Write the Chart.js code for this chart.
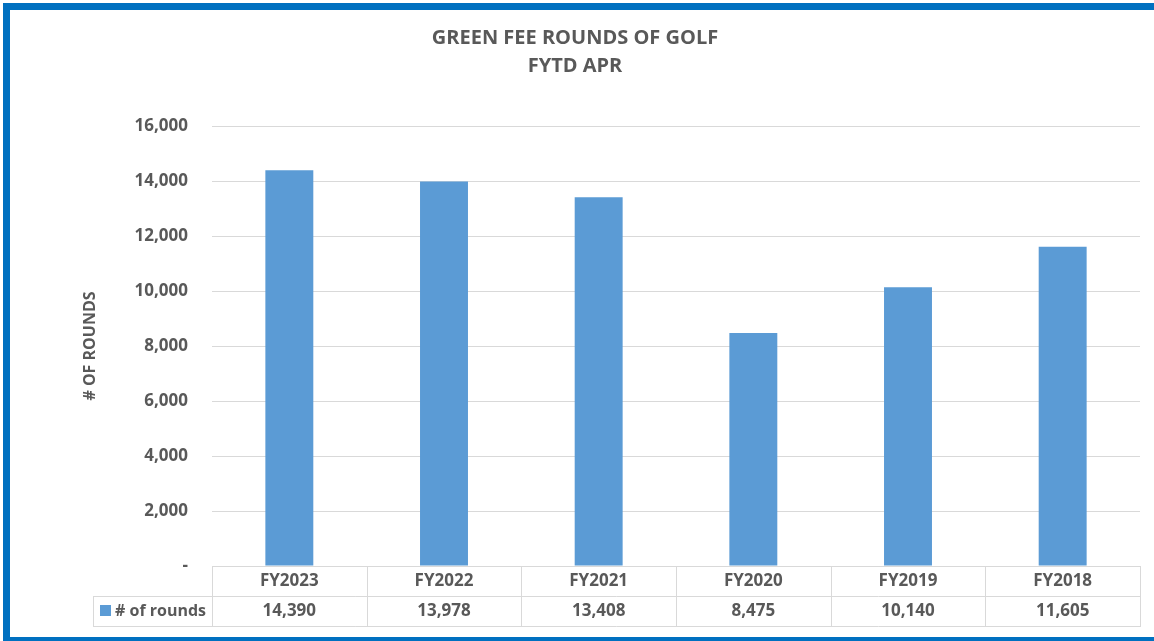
<!DOCTYPE html>
<html>
<head>
<meta charset="utf-8">
<script src="https://cdn.jsdelivr.net/npm/chart.js@4.4.1/dist/chart.umd.min.js"></script>
<style>
  html, body { margin: 0; padding: 0; background: #ffffff; overflow: hidden; }
  #frame { position: absolute; left: 3px; top: 3px; width: 1165px; height: 641px; border: 7px solid #0070C0; box-sizing: border-box; }
  #c { position: absolute; left: 0; top: 0; }
</style>
</head>
<body>
<div id="frame"></div>
<canvas id="c" width="1154" height="641"></canvas>
<script>
const titleLines = ['GREEN FEE ROUNDS OF GOLF', 'FYTD APR'];
const categories = ['FY2023', 'FY2022', 'FY2021', 'FY2020', 'FY2019', 'FY2018'];
const seriesName = '# of rounds';
const rounds = [14390, 13978, 13408, 8475, 10140, 11605];
const yTitle = '# OF ROUNDS';
const yMin = 0, yMax = 16000, yStep = 2000;

const TEXT = '#595959';
const GRID = '#d9d9d9';
const BAR = '#5B9BD5';
const FONT = '"Open Sans", "Liberation Sans", sans-serif';
const fmt = v => v.toLocaleString('en-US');

const titlePlugin = {
  id: 'excelTitle',
  afterDraw(chart) {
    const ctx = chart.ctx;
    ctx.save();
    ctx.fillStyle = TEXT;
    ctx.font = 'bold 20px ' + FONT;
    ctx.textAlign = 'center';
    ctx.textBaseline = 'middle';
    ctx.fillText(titleLines[0], 575, 38);
    ctx.fillText(titleLines[1], 575, 66);
    ctx.restore();
  }
};

const tablePlugin = {
  id: 'dataTable',
  afterDraw(chart) {
    const ctx = chart.ctx;
    const area = chart.chartArea;
    const xs = chart.scales.x;
    const n = categories.length;
    const cw = (area.right - area.left) / n;
    const top = area.bottom;
    const rowH = 30;
    const keyLeft = 93.5;
    ctx.save();
    ctx.strokeStyle = GRID;
    ctx.lineWidth = 1;
    ctx.beginPath();
    ctx.moveTo(area.left, Math.round(top) + 0.5); ctx.lineTo(area.right, Math.round(top) + 0.5);
    ctx.moveTo(keyLeft, Math.round(top + rowH) + 0.5); ctx.lineTo(area.right, Math.round(top + rowH) + 0.5);
    ctx.moveTo(keyLeft, Math.round(top + 2 * rowH) + 0.5); ctx.lineTo(area.right, Math.round(top + 2 * rowH) + 0.5);
    ctx.moveTo(keyLeft, Math.round(top + rowH)); ctx.lineTo(keyLeft, Math.round(top + 2 * rowH) + 1);
    for (let i = 0; i <= n; i++) {
      const x = Math.round(area.left + i * cw) + 0.5;
      ctx.moveTo(x, Math.round(top)); ctx.lineTo(x, Math.round(top + 2 * rowH) + 1);
    }
    ctx.stroke();
    ctx.fillStyle = TEXT;
    ctx.font = 'bold 17px ' + FONT;
    ctx.textAlign = 'center';
    ctx.textBaseline = 'middle';
    for (let i = 0; i < n; i++) {
      const cx = xs.getPixelForValue(i);
      ctx.fillText(categories[i], cx, top + rowH / 2 + 0.5);
      ctx.fillText(fmt(rounds[i]), cx, top + rowH * 1.5 + 0.5);
    }
    ctx.fillStyle = BAR;
    ctx.fillRect(100, top + rowH + 9, 11, 11);
    ctx.fillStyle = TEXT;
    ctx.textAlign = 'left';
    ctx.font = 'bold 16px ' + FONT;
    ctx.fillText(seriesName, 115, top + rowH * 1.5 + 0.5);
    ctx.restore();
  }
};

new Chart(document.getElementById('c'), {
  type: 'bar',
  data: {
    labels: categories,
    datasets: [{
      label: seriesName,
      data: rounds,
      backgroundColor: BAR,
      borderWidth: 0,
      categoryPercentage: 1.0,
      barPercentage: 0.31
    }]
  },
  options: {
    responsive: false,
    animation: false,
    devicePixelRatio: 1,
    layout: { padding: { top: 126, right: 14, bottom: 75, left: 0 } },
    plugins: {
      legend: { display: false },
      title: { display: false },
      tooltip: { enabled: false }
    },
    scales: {
      x: { display: false },
      y: {
        min: yMin, max: yMax,
        afterFit(scale) { scale.width = 212; },
        ticks: {
          stepSize: yStep,
          color: TEXT,
          padding: 24,
          font: { family: FONT, size: 17, weight: 'bold' },
          callback: v => v === 0 ? '-' : fmt(v)
        },
        grid: { color: GRID, lineWidth: 1, drawTicks: false },
        border: { display: false },
        title: {
          display: true,
          text: yTitle,
          color: TEXT,
          font: { family: FONT, size: 16, weight: 'bold' },
          padding: { top: 81, bottom: 0 }
        }
      }
    }
  },
  plugins: [titlePlugin, tablePlugin]
});
</script>
</body>
</html>
